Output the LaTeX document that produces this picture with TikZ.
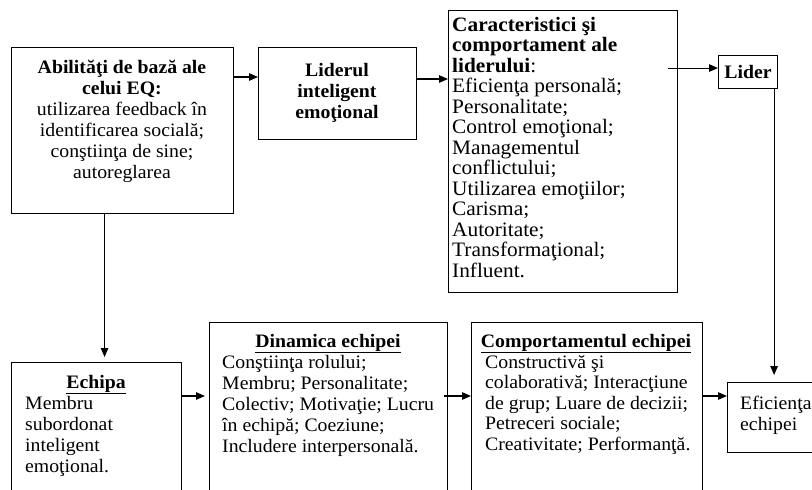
\documentclass[tikz,border=0pt]{standalone}
\usepackage{fontspec}
\setmainfont{Liberation Serif}[FakeStretch=1.04]
\usetikzlibrary{arrows.meta,calc}
\begin{document}
\begin{tikzpicture}[x=1pt,y=-1pt,
  box/.style={draw, line width=1.1pt, inner sep=0pt, anchor=north west},
  txt/.style={inner sep=0pt, align=left, font=\fontsize{19pt}{21pt}\selectfont},
  ctxt/.style={inner sep=0pt, align=center, font=\fontsize{19pt}{21pt}\selectfont},
  arr/.style={-{Triangle[length=9pt,width=7.5pt]}, line width=1.1pt}]
\useasboundingbox (0,0) rectangle (812,490);
\clip (0,0) rectangle (812,490);
% boxes
\node[box, minimum width=222pt, minimum height=166pt] (abil) at (11,47) {};
\node[box, minimum width=158pt, minimum height=92pt] (lidint) at (258,47) {};
\node[box, minimum width=229pt, minimum height=282pt] (carac) at (448,10) {};
\node[box, minimum width=59pt, minimum height=33pt] (lider) at (718,55) {};
\node[box, minimum width=170pt, minimum height=150pt] (echipa) at (11,362) {};
\node[box, minimum width=238pt, minimum height=190pt] (dinam) at (209,322) {};
\node[box, minimum width=231pt, minimum height=190pt] (comp) at (471,322) {};
\node[box, minimum width=120pt, minimum height=70pt] (efic) at (727,382) {};
% texts (base anchor = baseline of the last line)
\node[ctxt, anchor=base] (abilT) at (122,178) {\textbf{Abilităţi de bază ale}\\\textbf{celui EQ:}\\utilizarea feedback în\\identificarea socială;\\conştiinţa de sine;\\autoreglarea};
\node[ctxt, anchor=base] (lidintT) at (337,118) {\textbf{Liderul}\\\textbf{inteligent}\\\textbf{emoţional}};
\node[txt, anchor=base west, font=\fontsize{20.5pt}{20.5pt}\selectfont] (caracT) at (452,277) {\textbf{Caracteristici şi}\\\textbf{comportament ale}\\\textbf{liderului}:\\Eficienţa personală;\\Personalitate;\\Control emoţional;\\Managementul\\conflictului;\\Utilizarea emoţiilor;\\Carisma;\\Autoritate;\\Transformaţional;\\Influent.};
\node[ctxt] (liderT) at (lider.center) {\textbf{Lider}};
\node[ctxt, anchor=base] (echipaT) at (96,388) {\underline{\textbf{Echipa}}};
\node[txt, anchor=base west] (echipaB) at (25,472) {Membru\\subordonat\\inteligent\\emoţional.};
\node[ctxt, anchor=base] (dinamT) at (328,347) {\underline{\textbf{Dinamica echipei}}};
\node[txt, anchor=base west] (dinamB) at (222,452) {Conştiinţa rolului;\\Membru; Personalitate;\\Colectiv; Motivaţie; Lucru\\în echipă; Coeziune;\\Includere interpersonală.};
\node[ctxt, anchor=base] (compT) at (586,347) {\underline{\textbf{Comportamentul echipei}}};
\node[txt, anchor=base west, font=\fontsize{19pt}{20.5pt}\selectfont] (compB) at (485,450) {Constructivă şi\\colaborativă; Interacţiune\\de grup; Luare de decizii;\\Petreceri sociale;\\Creativitate; Performanţă.};
\node[txt, anchor=base west] (eficT) at (740,430) {Eficienţa\\echipei};
% connectors
\draw[arr] ($(abil.north east)+(0,30)$) -- ($(lidint.north west)+(0,30)$);
\draw[arr] ($(lidint.north east)+(0,32)$) -- ($(lidint.north east -| carac.west)+(0,32)$);
\draw[arr] ($(carac.east |- lider.west)+(-10,-4)$) -- ($(lider.west)+(0,-4)$);
\draw[arr, shorten >=7pt] ($(lider.south east)+(-4,0)$) -- ($(lider.south east |- efic.north)+(-4,0)$);
\draw[arr, shorten >=5pt] ($(abil.south)+(-18,0)$) -- ($(abil.south |- echipa.north)+(-18,0)$);
\draw[arr, shorten >=4pt] ($(echipa.north east)+(0,34)$) -- ($(echipa.north east -| dinam.west)+(0,34)$);
\draw[arr] ($(dinam.north east)+(-4,74)$) -- ($(dinam.north east -| comp.west)+(0,74)$);
\draw[arr] ($(comp.north east)+(0,74)$) -- ($(comp.north east -| efic.west)+(0,74)$);
\end{tikzpicture}
\end{document}
